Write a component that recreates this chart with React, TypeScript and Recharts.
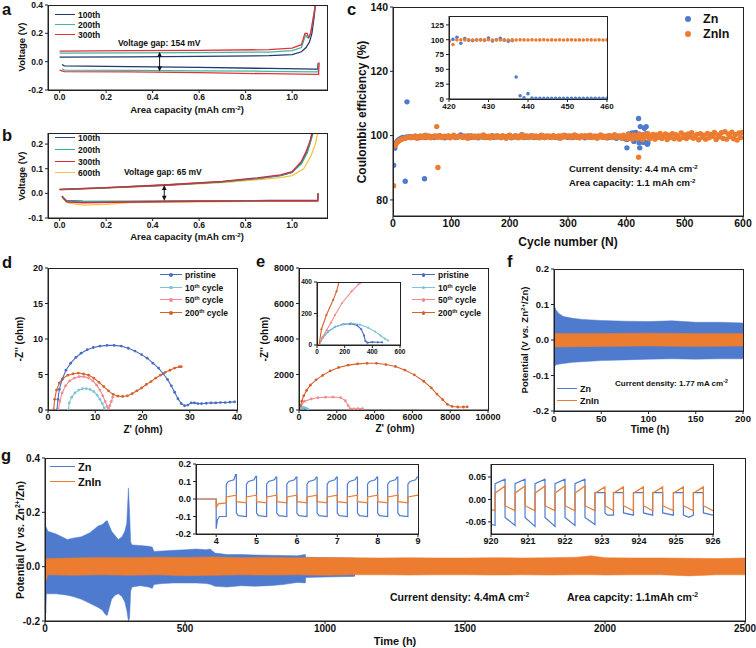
import React from 'react';
import { ComposedChart, Line, Area, Scatter, XAxis, YAxis, ReferenceLine, ReferenceDot } from 'recharts';

const FONT = '"Liberation Sans", Arial, Helvetica, sans-serif';
const BLUE = '#4F7BCF';
const ORANGE = '#EC7C30';

// ---------------- panel a : voltage profiles (x = area capacity, y = V) ----------------
const a100Charge = [[0,0.032],[0.3,0.034],[0.6,0.037],[0.9,0.042],[1.0,0.05],[1.04,0.07],[1.06,0.1],[1.075,0.14],[1.085,0.2],[1.095,0.32],[1.1,0.4]];
const a200Charge = [[0,0.06],[0.3,0.062],[0.6,0.064],[0.9,0.068],[1.0,0.078],[1.04,0.1],[1.058,0.19],[1.065,0.17],[1.075,0.17],[1.085,0.25],[1.095,0.35],[1.1,0.4]];
const a300Charge = [[0,0.075],[0.3,0.078],[0.6,0.08],[0.9,0.085],[1.0,0.095],[1.04,0.12],[1.055,0.2],[1.065,0.2],[1.07,0.17],[1.08,0.2],[1.09,0.3],[1.1,0.4]];
const a100Dis = [[0.01,-0.02],[0.02,-0.03],[0.3,-0.035],[0.6,-0.04],[0.9,-0.048],[1.1,-0.052],[1.11,-0.052],[1.112,-0.01]];
const a200Dis = [[0.01,-0.05],[0.02,-0.06],[0.3,-0.062],[0.6,-0.065],[0.9,-0.068],[1.1,-0.072],[1.112,-0.072],[1.114,-0.01]];
const a300Dis = [[0,-0.06],[0.02,-0.07],[0.3,-0.072],[0.6,-0.078],[0.9,-0.085],[1.1,-0.09],[1.114,-0.09],[1.116,-0.005]];
const aGap = { x: 0.43, top: 0.07, bottom: -0.07 };

// ---------------- panel b ----------------
const b100Charge = [[0,0.015],[0.2,0.022],[0.45,0.033],[0.7,0.047],[0.85,0.06],[0.95,0.072],[1.0,0.085],[1.04,0.125],[1.06,0.16],[1.075,0.2],[1.085,0.245]];
const b200Charge = [[0,0.016],[0.2,0.023],[0.45,0.034],[0.7,0.048],[0.85,0.061],[0.95,0.073],[1.0,0.086],[1.04,0.12],[1.065,0.165],[1.08,0.21],[1.09,0.245]];
const b300Charge = [[0,0.016],[0.2,0.023],[0.45,0.034],[0.7,0.049],[0.85,0.063],[0.95,0.075],[1.0,0.088],[1.04,0.13],[1.06,0.17],[1.08,0.22],[1.088,0.245]];
const b600Charge = [[0,0.014],[0.2,0.021],[0.45,0.032],[0.7,0.044],[0.85,0.055],[0.95,0.064],[1.0,0.072],[1.05,0.1],[1.08,0.15],[1.1,0.2],[1.11,0.245]];
const b100Dis = [[0.01,-0.012],[0.03,-0.03],[0.1,-0.032],[0.3,-0.033],[0.6,-0.031],[0.9,-0.029],[1.1,-0.029],[1.11,-0.029],[1.112,0.0]];
const b200Dis = [[0.01,-0.015],[0.03,-0.033],[0.1,-0.034],[0.3,-0.033],[0.6,-0.031],[0.9,-0.03],[1.1,-0.03],[1.11,-0.03],[1.112,-0.002]];
const b300Dis = [[0.01,-0.01],[0.03,-0.035],[0.1,-0.038],[0.3,-0.035],[0.6,-0.032],[0.9,-0.03],[1.1,-0.03],[1.11,-0.03],[1.112,0.0]];
const b600Dis = [[0.01,-0.02],[0.04,-0.04],[0.1,-0.048],[0.2,-0.045],[0.3,-0.038],[0.6,-0.034],[0.9,-0.032],[1.1,-0.031],[1.11,-0.031],[1.112,0.002]];
const bGap = { x: 0.45, top: 0.034, bottom: -0.03 };

// ---------------- panel c : coulombic efficiency ----------------
const znInStartCycle = 2, znInStep = 3;
const znInCE = [
  97.0, 97.4, 98.0, 98.5, 98.8, 99.0, 99.2, 99.3, 99.5, 99.4,
  99.6, 99.5, 99.8, 99.2, 99.7, 99.9, 99.4, 99.6, 100.1, 99.5,
  99.8, 99.3, 99.7, 99.9, 99.5, 99.6, 100.0, 99.4, 99.7, 99.8,
  99.5, 99.9, 99.3, 99.7, 100.1, 99.6, 99.4, 99.8, 99.7, 99.5,
  99.9, 99.6, 99.2, 99.8, 100.0, 99.5, 99.7, 99.4, 99.9, 99.6,
  99.7, 100.2, 99.4, 99.6, 99.8, 99.3, 99.9, 99.7, 99.5, 100.0,
  99.6, 99.4, 99.9, 99.7, 99.2, 99.8, 100.1, 99.5, 99.7, 99.6,
  99.9, 99.3, 99.8, 100.2, 99.5, 99.6, 99.9, 99.4, 99.7, 100.0,
  99.5, 99.8, 99.6, 99.3, 100.1, 99.7, 99.4, 99.9, 99.6, 99.8,
  99.4, 100.0, 99.7, 99.5, 99.9, 99.2, 99.8, 100.1, 99.6, 99.7,
  99.9, 99.4, 99.6, 100.2, 99.5, 99.8, 99.3, 99.9, 99.7, 100.0,
  99.5, 99.7, 100.1, 99.4, 99.8, 99.6, 99.2, 99.9, 100.2, 99.5,
  99.8, 99.3, 99.9, 100.0, 99.4, 99.7, 100.3, 99.5, 99.6, 99.9,
  99.2, 100.1, 99.6, 99.0, 100.4, 99.5, 98.9, 100.2, 99.7, 99.1,
  100.5, 99.3, 98.8, 100.3, 99.6, 100.6, 99.0, 99.8, 100.4, 98.9,
  100.2, 99.5, 100.7, 99.1, 99.8, 100.5, 98.8, 100.1, 99.4, 100.6,
  99.0, 100.3, 99.7, 98.9, 100.8, 99.4, 100.2, 99.1, 100.5, 99.6,
  100.9, 99.2, 99.8, 100.4, 98.7, 100.6, 99.5, 100.1, 98.9, 100.7,
  99.3, 100.4, 99.8, 101.0, 98.8, 100.2, 99.6, 100.9, 99.1, 101.2,
  98.9, 100.5, 99.7, 101.1, 99.0, 100.3, 98.6, 100.8, 99.4, 101.0,
];
const znStartCycle = 5, znStep = 3;
const znCE = [
  97.8, 98.4, 98.9, 99.2, 99.4, 99.3, 99.6, 99.5, 99.7, 99.4,
  99.6, 99.8, 99.5, 99.3, 99.7, 99.6, 99.9, 99.4, 99.6, 99.8,
  99.5, 99.7, 99.4, 99.8, 99.6, 100.0, 99.5, 99.7, 99.3, 99.6,
  99.8, 99.5, 99.7, 99.9, 99.4, 99.6, 99.8, 100.2, 99.5, 99.7,
  99.6, 99.9, 99.4, 99.7, 99.5, 99.8, 99.6, 99.3, 99.7, 99.9,
  99.5, 99.8, 99.6, 99.4, 99.7, 100.0, 99.5, 99.8, 99.6, 99.7,
  99.4, 99.9, 99.6, 99.5, 99.8, 99.7, 99.3, 99.6, 99.9, 99.5,
  99.7, 99.6, 100.3, 99.4, 99.8, 99.5, 99.7, 99.9, 99.6, 99.4,
  99.8, 99.5, 99.7, 99.6, 99.9, 99.4, 99.7, 99.8, 99.5, 99.6,
  99.9, 99.5, 99.7, 99.3, 99.8, 99.6, 99.7, 100.0, 99.5, 99.6,
  99.8, 99.4, 99.7, 99.9, 99.5, 99.6, 99.8, 99.7, 99.3, 99.6,
  99.9, 99.5, 99.7, 99.6, 99.8, 99.4, 99.7, 99.9, 99.5, 99.6,
  99.7, 99.3, 99.8, 99.6, 99.9, 99.5, 99.2, 99.8, 99.6, 99.4,
  99.7, 99.0, 98.8, 100.5, 99.3, 100.8, 98.2, 101.0, 99.5, 97.8,
  99.0, 100.2, 98.0, 100.6, 97.8,
];
const znCEOutliers = [[1,90.8],[3,96.1],[21,85.8],[24,110.5],[54,86.6],[401,96.2],[421,105.3],[423,96.2],[424,102.8],[427,98.1],[429,97.9],[431,102.3],[434,102.8],[436,97.3]];
const znInCEOutliers = [[1,84.4],[4,96.9],[75,102.8],[77,90.1],[421,93.3]];
const insetStartCycle = 420;
const znInsetCE = [97,100.5,104,94,102,99,98.5,99.5,100,99,103,98,100,102.5,99,97.5,98.5,37,5.5,2,9,1.5,1,1.2,1,1.1,1,1.2,1,1.1,1,1,1.2,1,1.1,1,1,1.2,1,1.1,1];
const znInInsetCE = [99,92,99.5,99.8,99.6,99.7,99.5,99.8,99.6,99.7,99.9,99.5,99.7,99.6,99.8,99.5,99.7,99.6,99.8,99.7,99.5,99.8,99.6,99.7,99.9,99.6,99.7,99.5,99.8,99.6,99.7,99.8,99.5,99.7,99.6,99.8,99.7,99.5,99.8,99.6,99.7];

// ---------------- panel d : EIS (ohm) ----------------
const dPristine = [[1.9,0],[2.1,1.5],[2.4,2.9],[3,4.3],[3.8,5.6],[4.8,6.6],[5.9,7.4],[7,8.0],[8.3,8.5],[9.6,8.8],[11,9.0],[12.5,9.1],[14,9.1],[15.5,9.0],[17,8.7],[18.4,8.3],[19.8,7.8],[21,7.3],[22.2,6.6],[23.4,5.9],[24.4,5.1],[25.3,4.3],[26.1,3.4],[26.8,2.5],[27.5,1.6],[28.2,0.9],[28.9,0.6],[29.6,0.7],[30.3,1.0],[31,1.0],[31.7,0.9],[32.5,0.9],[33.5,0.95],[34.5,1.0],[35.5,1.0],[36.5,1.05],[37.5,1.05],[38.5,1.1],[39.5,1.15]];
const d10th = [[4.3,0],[4.5,1.0],[5.0,1.8],[5.7,2.4],[6.5,2.8],[7.3,3.0],[8.1,3.0],[8.9,2.9],[9.7,2.6],[10.4,2.1],[11.0,1.5],[11.5,0.9],[11.9,0.3],[12.1,0]];
const d50th = [[2.2,0],[2.5,1.2],[3.0,2.4],[3.7,3.4],[4.6,4.1],[5.6,4.5],[6.6,4.7],[7.6,4.7],[8.6,4.5],[9.5,4.1],[10.3,3.5],[11.0,2.8],[11.6,2.0],[12.1,1.2],[12.5,0.5],[12.8,0.2],[13.1,0.6],[13.4,1.2],[13.7,1.8]];
const d200th = [[1.2,0],[1.4,1.5],[1.8,2.8],[2.4,3.8],[3.2,4.5],[4.2,4.9],[5.3,5.1],[6.4,5.2],[7.5,5.1],[8.6,4.9],[9.7,4.5],[10.8,3.9],[11.8,3.3],[12.8,2.7],[13.8,2.2],[14.8,1.95],[15.8,1.9],[16.8,2.0],[17.8,2.3],[18.8,2.7],[19.8,3.1],[20.8,3.6],[21.8,4.0],[22.8,4.5],[23.8,4.9],[24.8,5.3],[25.8,5.6],[26.8,5.9],[27.8,6.1],[28.2,6.1]];

// ---------------- panel e : EIS (ohm) ----------------
const ePristine = [[15,0],[40,45],[80,85],[130,115],[190,132],[240,135],[290,125],[320,100],[340,60],[350,25],[365,15],[400,18],[440,17],[470,17]];
const e10th = [[15,0],[40,45],[80,85],[130,115],[190,132],[250,138],[310,130],[370,110],[420,85],[460,60],[490,40],[515,28]];
const e50th = [[20,0],[120,280],[300,500],[650,620],[1000,690],[1400,720],[1800,730],[2200,700],[2450,520],[2600,250],[2700,80],[2900,60],[3100,70],[3350,80]];
const e200th = [[20,0],[80,250],[150,500],[250,800],[400,1100],[600,1400],[900,1700],[1250,1950],[1650,2200],[2100,2400],[2600,2530],[3100,2600],[3600,2630],[4100,2630],[4600,2560],[5100,2450],[5600,2250],[6100,1980],[6600,1620],[7000,1250],[7300,900],[7600,580],[7850,320],[8100,200],[8400,170],[8700,170],[8900,180]];
const eIn50th = [[15,0],[40,50],[70,95],[100,140],[130,190],[180,265],[250,340],[300,385],[330,400]];
const eIn200th = [[15,0],[32,100],[68,190],[117,286],[141,340],[159,400]];

// ---------------- panel f : symmetric cell, 1.77 mA cm-2 (t, low, high) ----------------
const fZnBand = [[0,-0.13,0.1],[0.5,-0.075,0.095],[2,-0.07,0.085],[5,-0.068,0.075],[10,-0.066,0.066],[20,-0.063,0.061],[30,-0.061,0.058],[50,-0.058,0.055],[75,-0.056,0.053],[100,-0.054,0.052],[125,-0.053,0.054],[150,-0.054,0.05],[175,-0.053,0.05],[200,-0.053,0.048]];
const fZnInBand = [[0,-0.02,0.018],[50,-0.018,0.018],[100,-0.017,0.019],[150,-0.018,0.018],[200,-0.017,0.018]];

// ---------------- panel g : long cycling (t, low, high) ----------------
const gZnBand = [[0,-0.1,0.14],[3,-0.17,0.14],[5,-0.1,0.145],[10,-0.1,0.13],[40,-0.1,0.12],[80,-0.105,0.1],[100,-0.11,0.105],[130,-0.12,0.11],[160,-0.135,0.125],[190,-0.15,0.15],[205,-0.16,0.155],[215,-0.175,0.165],[222,-0.18,0.17],[230,-0.15,0.15],[238,-0.12,0.13],[250,-0.105,0.115],[262,-0.1,0.1],[275,-0.11,0.11],[285,-0.13,0.13],[292,-0.16,0.16],[298,-0.2,0.29],[302,-0.19,0.2],[306,-0.09,0.09],[311,-0.075,0.08],[340,-0.07,0.078],[370,-0.075,0.075],[383,-0.08,0.072],[389,-0.066,0.056],[420,-0.062,0.058],[460,-0.06,0.06],[500,-0.06,0.062],[540,-0.06,0.065],[575,-0.062,0.062],[590,-0.065,0.065],[607,-0.072,0.05],[650,-0.075,0.045],[700,-0.07,0.045],[750,-0.072,0.043],[800,-0.07,0.042],[850,-0.066,0.041],[900,-0.058,0.04],[930,-0.06,0.045],[931,-0.04,0.035],[1000,-0.038,0.033],[1100,-0.036,0.032],[1107,-0.035,0.03]];
const gZnInBand = [[0,-0.03,0.025],[5,-0.05,0.03],[10,-0.03,0.03],[100,-0.032,0.032],[200,-0.03,0.034],[300,-0.032,0.033],[400,-0.03,0.035],[500,-0.033,0.034],[600,-0.032,0.036],[700,-0.03,0.033],[800,-0.031,0.034],[900,-0.03,0.033],[1000,-0.032,0.034],[1100,-0.03,0.033],[1200,-0.03,0.032],[1300,-0.031,0.033],[1400,-0.03,0.032],[1500,-0.03,0.032],[1600,-0.031,0.033],[1700,-0.03,0.032],[1800,-0.031,0.033],[1900,-0.03,0.035],[1950,-0.03,0.04],[2000,-0.031,0.033],[2100,-0.03,0.032],[2200,-0.03,0.032],[2300,-0.034,0.031],[2400,-0.03,0.03],[2500,-0.03,0.032]];
const gIn1Zn = [[3.5,0],[4,0],[4,-0.17],[4.03,-0.12],[4.08,-0.1],[4.25,-0.1],
  [4.25,0.085],[4.3,0.1],[4.44,0.11],[4.48,0.14],[4.5,0.14],[4.5,-0.08],[4.55,-0.095],[4.75,-0.1],
  [4.75,0.085],[4.8,0.1],[4.94,0.11],[4.98,0.13],[5,0.13],[5,-0.08],[5.05,-0.095],[5.25,-0.1],
  [5.25,0.085],[5.3,0.1],[5.44,0.11],[5.48,0.125],[5.5,0.125],[5.5,-0.08],[5.55,-0.095],[5.75,-0.1],
  [5.75,0.085],[5.8,0.1],[5.94,0.11],[5.98,0.125],[6,0.125],[6,-0.08],[6.05,-0.095],[6.25,-0.1],
  [6.25,0.085],[6.3,0.1],[6.44,0.11],[6.48,0.125],[6.5,0.125],[6.5,-0.08],[6.55,-0.095],[6.75,-0.1],
  [6.75,0.085],[6.8,0.1],[6.94,0.11],[6.98,0.125],[7,0.125],[7,-0.08],[7.05,-0.095],[7.25,-0.1],
  [7.25,0.085],[7.3,0.1],[7.44,0.11],[7.48,0.125],[7.5,0.125],[7.5,-0.08],[7.55,-0.095],[7.75,-0.1],
  [7.75,0.085],[7.8,0.1],[7.94,0.11],[7.98,0.125],[8,0.125],[8,-0.08],[8.05,-0.095],[8.25,-0.1],
  [8.25,0.085],[8.3,0.1],[8.44,0.11],[8.48,0.125],[8.5,0.125],[8.5,-0.08],[8.55,-0.095],[8.75,-0.1],
  [8.75,0.085],[8.8,0.1],[8.94,0.11],[8.98,0.125],[9,0.125]];
const gIn1ZnIn = [[3.5,0],[4,0],[4,-0.05],[4.05,-0.028],[4.25,-0.022],
  [4.25,0.012],[4.5,0.022],[4.5,-0.015],[4.75,-0.022],[4.75,0.012],[5,0.022],[5,-0.015],[5.25,-0.022],
  [5.25,0.012],[5.5,0.022],[5.5,-0.015],[5.75,-0.022],[5.75,0.012],[6,0.022],[6,-0.015],[6.25,-0.022],
  [6.25,0.012],[6.5,0.022],[6.5,-0.015],[6.75,-0.022],[6.75,0.012],[7,0.022],[7,-0.015],[7.25,-0.022],
  [7.25,0.012],[7.5,0.022],[7.5,-0.015],[7.75,-0.022],[7.75,0.012],[8,0.022],[8,-0.015],[8.25,-0.022],
  [8.25,0.012],[8.5,0.022],[8.5,-0.015],[8.75,-0.022],[8.75,0.012],[9,0.022]];
const gIn2Zn = [[920,-0.055],[920.11,-0.058],
  [920.11,0.035],[920.38,0.045],[920.38,-0.04],[920.65,-0.058],
  [920.65,0.035],[920.92,0.045],[920.92,-0.04],[921.19,-0.06],
  [921.19,0.035],[921.46,0.045],[921.46,-0.04],[921.73,-0.06],
  [921.73,0.035],[922.0,0.045],[922.0,-0.04],[922.27,-0.058],
  [922.27,0.035],[922.54,0.045],[922.54,-0.04],[922.81,-0.056],
  [922.81,0.015],[923.08,0.015],[923.08,-0.03],[923.15,-0.035],[923.31,-0.035],
  [923.31,0.015],[923.58,0.015],[923.58,-0.03],[923.85,-0.035],
  [923.85,0.015],[924.12,0.015],[924.12,-0.03],[924.37,-0.035],
  [924.37,0.015],[924.64,0.015],[924.64,-0.03],[924.93,-0.035],
  [924.93,0.015],[925.2,0.015],[925.2,-0.035],[925.35,-0.04],[925.47,-0.035],
  [925.47,0.015],[925.74,0.015],[925.74,-0.03],[926,-0.035]];
const gIn2ZnIn = [[920,-0.022],[920.11,-0.025],
  [920.11,0.014],[920.38,0.03],[920.38,-0.014],[920.65,-0.025],
  [920.65,0.014],[920.92,0.03],[920.92,-0.014],[921.19,-0.025],
  [921.19,0.014],[921.46,0.03],[921.46,-0.014],[921.73,-0.025],
  [921.73,0.014],[922.0,0.03],[922.0,-0.014],[922.27,-0.025],
  [922.27,0.014],[922.54,0.03],[922.54,-0.014],[922.81,-0.025],
  [922.81,0.014],[923.08,0.028],[923.08,-0.014],[923.31,-0.025],
  [923.31,0.014],[923.58,0.028],[923.58,-0.014],[923.85,-0.025],
  [923.85,0.014],[924.12,0.028],[924.12,-0.014],[924.37,-0.025],
  [924.37,0.014],[924.64,0.028],[924.64,-0.014],[924.93,-0.025],
  [924.93,0.014],[925.2,0.028],[925.2,-0.014],[925.47,-0.025],
  [925.47,0.014],[925.74,0.028],[925.74,-0.014],[926,-0.025]];

// ---------------- colours ----------------
const C = {
  a100: '#22386E', a200: '#3DB9A0', a300: '#E2333C',
  b100: '#2C4A86', b200: '#2DB491', b300: '#D42A3F', b600: '#F4C542',
  pri: '#4A6CC3', c10: '#7CC4D6', c50: '#F08C8F', c200: '#D5612C',
};

// ---------------- helpers ----------------
const P = (arr: number[][]) => arr.map(([x, y]) => ({ x, y }));
const BAND = (arr: number[][]) => arr.map(([x, lo, hi]) => ({ x, r: [lo, hi] }));
const seq = (vals: number[], start: number, step: number) => vals.map((y, i) => ({ x: start + step * i, y }));
const f1 = (v: number) => v.toFixed(1);
const f2 = (v: number) => v.toFixed(2);

function Plot(p: any) {
  const L = p.L ?? 30, B = p.B ?? 16, T = p.T ?? 6, R = p.R ?? 14;
  const w = p.x1 - p.x0 + L + R, h = p.y1 - p.y0 + T + B;
  const tick = { fontSize: p.fs ?? 9, fontWeight: 700, fill: '#111' };
  return (
    <>
      <div style={{ position: 'absolute', left: p.x0 - L, top: p.y0 - T }}>
        <ComposedChart width={w} height={h} margin={{ top: T, right: R, left: 0, bottom: 0 }}>
          <XAxis type="number" dataKey="x" domain={p.xd} ticks={p.xt} tickFormatter={p.xf} interval={0}
            allowDataOverflow height={B} tickSize={3} tickMargin={1} tick={tick} stroke="#222" />
          <YAxis type="number" dataKey="y" domain={p.yd} ticks={p.yt} tickFormatter={p.yf} interval={0}
            allowDataOverflow width={L} tickSize={3} tickMargin={2} tick={tick} stroke="#222" />
          {p.children}
        </ComposedChart>
      </div>
      <div style={{ position: 'absolute', left: p.x0, top: p.y0, width: p.x1 - p.x0 + 1, height: p.y1 - p.y0 + 1,
        border: `${p.bw ?? 1.3}px solid #222`, boxSizing: 'border-box', pointerEvents: 'none' }} />
    </>
  );
}

const ln = (data: number[][], color: string, key: string, w = 1.3) => (
  <Line key={key} data={P(data)} dataKey="y" type="linear" stroke={color} strokeWidth={w} dot={false} isAnimationActive={false} />
);
const mln = (data: number[][], color: string, key: string, r = 1.4) => (
  <Line key={key} data={P(data)} dataKey="y" type="linear" stroke={color} strokeWidth={1.1}
    dot={{ r, fill: color, stroke: color, strokeWidth: 0 }} isAnimationActive={false} />
);
const dotShape = (r: number, fill: string) => (pp: any) => <circle cx={pp.cx} cy={pp.cy} r={r} fill={fill} />;
const arrowUp = (pp: any) => <path d={`M${pp.cx},${pp.cy} l-2.3,5 l4.6,0 z`} fill="#111" />;
const arrowDown = (pp: any) => <path d={`M${pp.cx},${pp.cy} l-2.3,-5 l4.6,0 z`} fill="#111" />;

function T(p: any) {
  const tr = p.left ? 'translate(0,-50%)' : p.rot ? 'translate(-50%,-50%) rotate(-90deg)' : 'translate(-50%,-50%)';
  return (
    <div style={{ position: 'absolute', left: p.x, top: p.y, transform: tr, fontSize: p.fs ?? 10, fontWeight: 700,
      whiteSpace: 'nowrap', lineHeight: 1, color: '#111' }}>{p.children}</div>
  );
}
const S = (p: any) => <sup style={{ fontSize: '0.65em', verticalAlign: '0.5em', lineHeight: 0 }}>{p.c}</sup>;
function Letter(p: any) {
  return <div style={{ position: 'absolute', left: p.x, top: p.y, fontSize: 16.5, fontWeight: 700, lineHeight: 1.1 }}>{p.c}</div>;
}
function Leg(p: any) {
  return (
    <>
      <div style={{ position: 'absolute', left: p.x, top: p.y - 0.8, width: p.w, height: 0, borderTop: `1.6px solid ${p.color}` }} />
      {p.marker && <div style={{ position: 'absolute', left: p.x + p.w / 2 - 1.8, top: p.y - 1.8, width: 3.6, height: 3.6, borderRadius: 2, background: p.color }} />}
      <T x={p.x + p.w + 3} y={p.y} fs={p.fs} left>{p.children}</T>
    </>
  );
}

export default function App() {
  const cTicks = [0, 100, 200, 300, 400, 500, 600];
  return (
    <div style={{ position: 'absolute', left: 0, top: 0, width: 756, height: 648, background: '#fff', fontFamily: FONT, color: '#111', overflow: 'hidden' }}>
      {/* ---------- panel a ---------- */}
      <Plot x0={48} y0={5} x1={327} y1={90} xd={[-0.05, 1.15]} yd={[-0.2, 0.4]} xt={[0, 0.2, 0.4, 0.6, 0.8, 1.0]} yt={[-0.2, 0, 0.2, 0.4]} xf={f1} yf={f1} fs={8.5} L={30} B={14}>
        {ln(a100Dis, C.a100, 'a1d')}{ln(a200Dis, C.a200, 'a2d')}{ln(a300Dis, C.a300, 'a3d')}
        {ln(a100Charge, C.a100, 'a1c')}{ln(a200Charge, C.a200, 'a2c')}{ln(a300Charge, C.a300, 'a3c')}
        <ReferenceLine segment={[{ x: aGap.x, y: aGap.top - 0.02 }, { x: aGap.x, y: aGap.bottom + 0.02 }]} stroke="#111" strokeWidth={1} />
        <ReferenceDot x={aGap.x} y={aGap.top} shape={arrowUp} />
        <ReferenceDot x={aGap.x} y={aGap.bottom} shape={arrowDown} />
      </Plot>
      <Letter x={2} y={0} c="a" />
      <T x={22} y={47} fs={9.5} rot>Voltage (V)</T>
      <T x={187} y={110} fs={9.5}>Area capacity (mAh cm<S c="-2" />)</T>
      <Leg x={55} y={15} w={20} color={C.a100} fs={8.5}>100th</Leg>
      <Leg x={55} y={25} w={20} color={C.a200} fs={8.5}>200th</Leg>
      <Leg x={55} y={35} w={20} color={C.a300} fs={8.5}>300th</Leg>
      <T x={118} y={43} fs={8.5} left>Voltage gap: 154 mV</T>

      {/* ---------- panel b ---------- */}
      <Plot x0={48} y0={133} x1={327} y1={218} xd={[-0.05, 1.15]} yd={[-0.1, 0.245]} xt={[0, 0.2, 0.4, 0.6, 0.8, 1.0]} yt={[-0.1, 0, 0.1, 0.2]} xf={f1} yf={f1} fs={8.5} L={30} B={14}>
        {ln(b600Dis, C.b600, 'b6d')}{ln(b100Dis, C.b100, 'b1d')}{ln(b200Dis, C.b200, 'b2d')}{ln(b300Dis, C.b300, 'b3d')}
        {ln(b600Charge, C.b600, 'b6c')}{ln(b100Charge, C.b100, 'b1c')}{ln(b200Charge, C.b200, 'b2c')}{ln(b300Charge, C.b300, 'b3c')}
        <ReferenceLine segment={[{ x: bGap.x, y: bGap.top - 0.015 }, { x: bGap.x, y: bGap.bottom + 0.015 }]} stroke="#111" strokeWidth={1} />
        <ReferenceDot x={bGap.x} y={bGap.top} shape={arrowUp} />
        <ReferenceDot x={bGap.x} y={bGap.bottom} shape={arrowDown} />
      </Plot>
      <Letter x={2} y={126} c="b" />
      <T x={22} y={176} fs={9.5} rot>Voltage (V)</T>
      <T x={187} y={237} fs={9.5}>Area capacity (mAh cm<S c="-2" />)</T>
      <Leg x={55} y={138} w={20} color={C.b100} fs={8.5}>100th</Leg>
      <Leg x={55} y={150} w={20} color={C.b200} fs={8.5}>200th</Leg>
      <Leg x={55} y={162} w={20} color={C.b300} fs={8.5}>300th</Leg>
      <Leg x={55} y={173} w={20} color={C.b600} fs={8.5}>600th</Leg>
      <T x={124} y={172} fs={8.5} left>Voltage gap: 65 mV</T>

      {/* ---------- panel c ---------- */}
      <Plot x0={393} y0={7} x1={743} y1={216} xd={[0, 600]} yd={[75, 140]} xt={cTicks} yt={[80, 100, 120, 140]} fs={10.5} L={32} B={17}>
        <Scatter data={seq(znCE, znStartCycle, znStep)} shape={dotShape(2.7, BLUE)} isAnimationActive={false} />
        <Scatter data={P(znCEOutliers)} shape={dotShape(2.7, BLUE)} isAnimationActive={false} />
        <Scatter data={seq(znInCE, znInStartCycle, znInStep)} shape={dotShape(2.7, ORANGE)} isAnimationActive={false} />
        <Scatter data={P(znInCEOutliers)} shape={dotShape(2.7, ORANGE)} isAnimationActive={false} />
      </Plot>
      <Plot x0={449} y0={16} x1={607} y1={99} xd={[420, 460]} yd={[0, 140]} xt={[420, 430, 440, 450, 460]} yt={[0, 25, 50, 75, 100, 125]} fs={8} L={24} B={14} R={10} bw={1.1}>
        <Scatter data={seq(znInsetCE, insetStartCycle, 1)} shape={dotShape(1.8, BLUE)} isAnimationActive={false} />
        <Scatter data={seq(znInInsetCE, insetStartCycle, 1)} shape={dotShape(1.8, ORANGE)} isAnimationActive={false} />
      </Plot>
      <Letter x={347} y={0} c="c" />
      <T x={362} y={112} fs={12} rot>Coulombic efficiency (%)</T>
      <T x={568} y={242} fs={12}>Cycle number (N)</T>
      <div style={{ position: 'absolute', left: 685, top: 16, width: 6, height: 6, borderRadius: 3, background: BLUE }} />
      <T x={703} y={19} fs={12.5} left>Zn</T>
      <div style={{ position: 'absolute', left: 685, top: 31, width: 6, height: 6, borderRadius: 3, background: ORANGE }} />
      <T x={703} y={34} fs={12.5} left>ZnIn</T>
      <T x={569} y={169} fs={9.5} left>Current density: 4.4 mA cm<S c="-2" /></T>
      <T x={569} y={183} fs={9.5} left>Area capacity: 1.1 mAh cm<S c="-2" /></T>

      {/* ---------- panel d ---------- */}
      <Plot x0={48} y0={268} x1={237} y1={410} xd={[0, 40]} yd={[0, 20]} xt={[0, 10, 20, 30, 40]} yt={[0, 5, 10, 15, 20]} fs={9} L={28} B={15}>
        {mln(dPristine, C.pri, 'dp')}{mln(d10th, C.c10, 'd10')}{mln(d50th, C.c50, 'd50')}{mln(d200th, C.c200, 'd200')}
      </Plot>
      <Letter x={2} y={253} c="d" />
      <T x={20} y={339} fs={10} rot>-Z'' (ohm)</T>
      <T x={143} y={430} fs={10}>Z' (ohm)</T>
      <Leg x={160} y={275} w={22} color={C.pri} fs={8.5} marker>pristine</Leg>
      <Leg x={160} y={287.5} w={22} color={C.c10} fs={8.5} marker>10<S c="th" /> cycle</Leg>
      <Leg x={160} y={300} w={22} color={C.c50} fs={8.5} marker>50<S c="th" /> cycle</Leg>
      <Leg x={160} y={313} w={22} color={C.c200} fs={8.5} marker>200<S c="th" /> cycle</Leg>

      {/* ---------- panel e ---------- */}
      <Plot x0={299} y0={268} x1={488} y1={410} xd={[0, 10000]} yd={[0, 8000]} xt={[0, 2000, 4000, 6000, 8000, 10000]} yt={[0, 2000, 4000, 6000, 8000]} fs={9} L={32} B={15}>
        {mln(ePristine, C.pri, 'ep', 1.1)}{mln(e10th, C.c10, 'e10', 1.1)}{mln(e50th, C.c50, 'e50')}{mln(e200th, C.c200, 'e200')}
      </Plot>
      <Plot x0={317} y0={282} x1={400} y1={345} xd={[0, 600]} yd={[0, 400]} xt={[0, 200, 400, 600]} yt={[0, 200, 400]} fs={6.5} L={16} B={10} R={6} T={4} bw={1}>
        {mln(ePristine, C.pri, 'eip', 1.1)}{mln(e10th, C.c10, 'ei10', 1.1)}{mln(eIn50th, C.c50, 'ei50', 1.1)}{mln(eIn200th, C.c200, 'ei200', 1.1)}
      </Plot>
      <Letter x={256} y={252} c="e" />
      <T x={265} y={339} fs={10} rot>-Z'' (ohm)</T>
      <T x={395} y={429} fs={10}>Z' (ohm)</T>
      <Leg x={412} y={275} w={23} color={C.pri} fs={8.5} marker>pristine</Leg>
      <Leg x={412} y={287.5} w={23} color={C.c10} fs={8.5} marker>10<S c="th" /> cycle</Leg>
      <Leg x={412} y={300} w={23} color={C.c50} fs={8.5} marker>50<S c="th" /> cycle</Leg>
      <Leg x={412} y={313} w={23} color={C.c200} fs={8.5} marker>200<S c="th" /> cycle</Leg>

      {/* ---------- panel f ---------- */}
      <Plot x0={554} y0={269} x1={743} y1={411} xd={[0, 200]} yd={[-0.2, 0.2]} xt={[0, 50, 100, 150, 200]} yt={[-0.2, -0.1, 0, 0.1, 0.2]} yf={f1} fs={9.5} L={28} B={15}>
        <Area data={BAND(fZnBand)} dataKey="r" type="linear" stroke={BLUE} strokeWidth={0.5} fill={BLUE} fillOpacity={1} isAnimationActive={false} />
        <Area data={BAND(fZnInBand)} dataKey="r" type="linear" stroke={ORANGE} strokeWidth={0.5} fill={ORANGE} fillOpacity={1} isAnimationActive={false} />
      </Plot>
      <Letter x={507} y={252} c="f" />
      <T x={525} y={340} fs={9.5} rot>Potential (V <i>vs.</i> Zn<S c="2+" />/Zn)</T>
      <T x={650} y={430} fs={10}>Time (h)</T>
      <Leg x={557} y={389} w={20} color={BLUE} fs={9}>Zn</Leg>
      <Leg x={557} y={401} w={20} color={ORANGE} fs={9}>ZnIn</Leg>
      <T x={615} y={384} fs={8} left>Current density: 1.77 mA cm<S c="-2" /></T>

      {/* ---------- panel g ---------- */}
      <Plot x0={45} y0={458} x1={745} y1={621} xd={[0, 2500]} yd={[-0.2, 0.4]} xt={[0, 500, 1000, 1500, 2000, 2500]} yt={[-0.2, 0, 0.2, 0.4]} yf={f1} fs={10} L={30} B={17} R={14}>
        <Area data={BAND(gZnBand)} dataKey="r" type="linear" stroke={BLUE} strokeWidth={0.5} fill={BLUE} fillOpacity={1} isAnimationActive={false} />
        <Area data={BAND(gZnInBand)} dataKey="r" type="linear" stroke={ORANGE} strokeWidth={0.5} fill={ORANGE} fillOpacity={1} isAnimationActive={false} />
      </Plot>
      <Plot x0={196} y0={464} x1={418} y1={534} xd={[3.5, 9]} yd={[-0.2, 0.2]} xt={[4, 5, 6, 7, 8, 9]} yt={[-0.2, -0.1, 0, 0.1, 0.2]} yf={f1} fs={9} L={26} B={14} R={8} bw={1.1}>
        {ln(gIn1Zn, BLUE, 'g1z', 1.2)}{ln(gIn1ZnIn, ORANGE, 'g1zi', 1.2)}
      </Plot>
      <Plot x0={491} y0={464} x1={713} y1={534} xd={[920, 926]} yd={[-0.077, 0.079]} xt={[920, 921, 922, 923, 924, 925, 926]} yt={[-0.05, 0, 0.05]} yf={f2} fs={9} L={32} B={14} R={10} bw={1.1}>
        {ln(gIn2Zn, BLUE, 'g2z', 1.2)}{ln(gIn2ZnIn, ORANGE, 'g2zi', 1.2)}
      </Plot>
      <Letter x={1} y={446} c="g" />
      <T x={20} y={540} fs={10.5} rot>Potential (V <i>vs.</i> Zn<S c="2+" />/Zn)</T>
      <T x={395} y={641} fs={11}>Time (h)</T>
      <Leg x={50} y={467} w={25} color={BLUE} fs={11}>Zn</Leg>
      <Leg x={50} y={482} w={25} color={ORANGE} fs={11}>ZnIn</Leg>
      <T x={390} y={597} fs={10.5} left>Current density: 4.4mA cm<S c="-2" /></T>
      <T x={567} y={597} fs={10.5} left>Area capcity: 1.1mAh cm<S c="-2" /></T>
    </div>
  );
}
